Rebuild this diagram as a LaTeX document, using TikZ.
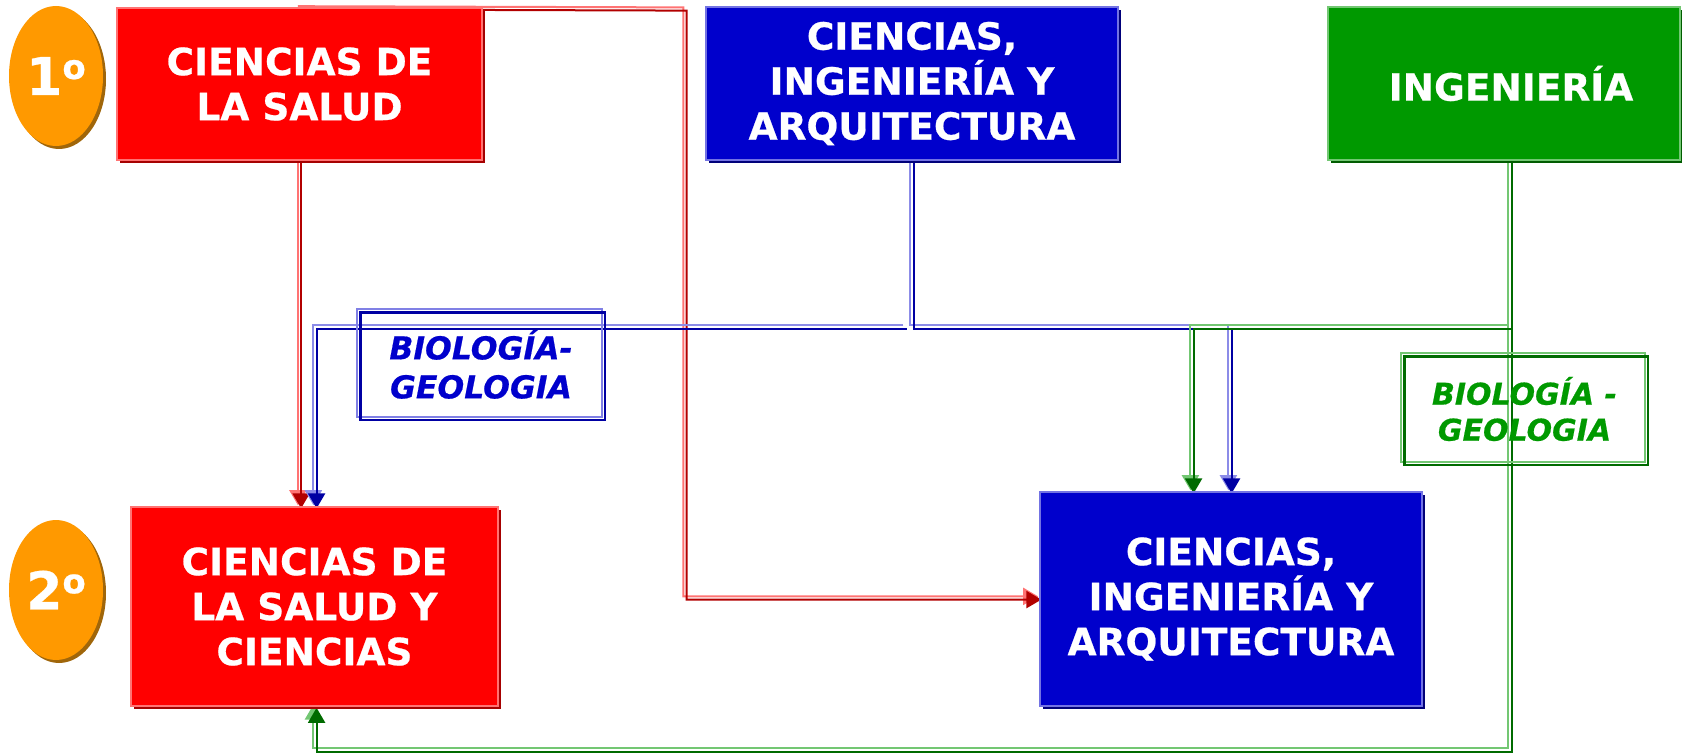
\documentclass[tikz,border=0pt]{standalone}
\usepackage{fontspec}
\setmainfont{DejaVu Sans}[BoldFeatures={FakeBold=0.6},BoldItalicFeatures={FakeBold=0.6}]
\usetikzlibrary{arrows.meta,shadows,shapes.geometric}
\definecolor{cred}{HTML}{FF0000}
\definecolor{cblue}{HTML}{0000CC}
\definecolor{cgreen}{HTML}{009900}
\definecolor{corange}{HTML}{FF9900}
\definecolor{cbrown}{HTML}{A0660A}
\tikzset{
  box/.style={rectangle, inner sep=0pt, align=center, text=white,
    font=\bfseries\fontsize{37.5}{45}\selectfont},
  boxshadow/.style={drop shadow={fill=#1, shadow xshift=3pt, shadow yshift=-3pt, opacity=1}},
  badge/.style={ellipse, inner sep=0pt, fill=corange, minimum width=94pt, minimum height=140pt,
    text=white, font=\bfseries\fontsize{52}{52}\selectfont,
    drop shadow={fill=cbrown, shadow xshift=3pt, shadow yshift=-3pt, opacity=1}},
  lab/.style={rectangle, inner sep=0pt, align=center},
  tip/.style={-{Triangle[width=17pt,length=15pt]}},
}
\newcommand\conn[4]{%
  \draw[line width=2pt, #1, transform canvas={shift={(-1.6,-1.6)}}, #3] #4;
  \draw[line width=2pt, #2, transform canvas={shift={(1.6,1.6)}}, #3] #4;}
\newcommand\labframe[3]{%
  \draw[line width=2.2pt, #2, transform canvas={shift={(-1.6,-1.6)}}] (#1.north west) rectangle (#1.south east);
  \draw[line width=2.2pt, #3, transform canvas={shift={(1.6,1.6)}}] (#1.north west) rectangle (#1.south east);}
\newcommand\ordo{\raisebox{16pt}{\fontsize{34}{34}\selectfont o}}
\begin{document}
\begin{tikzpicture}[x=1pt,y=-1pt]
\useasboundingbox (0,0) rectangle (1682,754);
\path
  (299.5,84) node[box, minimum width=365pt, minimum height=152pt] (A) {}
  (912,83.5) node[box, minimum width=412pt, minimum height=153pt] (B) {}
  (1504,83.5) node[box, minimum width=352pt, minimum height=153pt] (C) {}
  (314.5,606.5) node[box, minimum width=367pt, minimum height=199pt] (D) {}
  (1231,599) node[box, minimum width=382pt, minimum height=214pt] (E) {};
\coordinate (bj) at (912,327);
\coordinate (bjl) at (905,327);
\coordinate (bl) at (315,327);
\coordinate (br) at (1230,327);
\coordinate (gj) at (1510,327);
\coordinate (gr) at (1192,327);
\coordinate (gb) at (1510,750);
\coordinate (gl) at (315,750);
\coordinate (rr) at (685,598);
\coordinate (rt) at (685,9);
% connectors
\conn{cred!55}{cred!70!black}{tip}{(A.south) -- (A.south |- D.north)}
\conn{cred!55}{cred!70!black}{tip}{(A.north) -- (rt) -- (rr) -- (rr -| E.west)}
\conn{cblue!45!white}{cblue!80!black}{tip}{(B.south -| bj) -- (bj) -- (br) -- (br |- E.north)}
\conn{cblue!45!white}{cblue!80!black}{tip}{(bjl) -- (bl) -- (bl |- D.north)}
\conn{cgreen!55}{cgreen!70!black}{tip}{(C.south -| gj) -- (gb) -- (gl) -- (gl |- D.south)}
\conn{cgreen!55}{cgreen!70!black}{tip}{(gj) -- (gr) -- (gr |- E.north)}
% boxes
\node[box, boxshadow=cred!65!black, fill=cred, draw=cred!55, line width=1.2pt,
  minimum width=365pt, minimum height=152pt] (A2) at (A) {CIENCIAS DE\\LA SALUD};
\node[box, boxshadow=cblue!60!black, fill=cblue, draw=cblue!55!white, line width=1.2pt,
  minimum width=412pt, minimum height=153pt] (B2) at (B) {CIENCIAS,\\INGENIERÍA Y\\ARQUITECTURA};
\node[box, boxshadow=cgreen!60!black, fill=cgreen, draw=cgreen!55!white, line width=1.2pt,
  minimum width=352pt, minimum height=153pt] (C2) at (C) {\hspace{14pt}INGENIERÍA};
\node[box, boxshadow=cred!65!black, fill=cred, draw=cred!55, line width=1.2pt,
  minimum width=367pt, minimum height=199pt] (D2) at (D) {CIENCIAS DE\\LA SALUD Y\\CIENCIAS};
\node[box, boxshadow=cblue!60!black, fill=cblue, draw=cblue!55!white, line width=1.2pt,
  minimum width=382pt, minimum height=214pt] (E2) at (E) {CIENCIAS,\\INGENIERÍA Y\\ARQUITECTURA};
% badges
\node[badge] (O1) at (56,76) {1\ordo};
\node[badge] (O2) at (56,590) {2\ordo};
% labels
\node[lab, minimum width=244pt, minimum height=107pt, text=cblue,
  font=\bfseries\itshape\fontsize{31.5}{39}\selectfont] (LB) at (481,364.5) {BIOLOGÍA-\\GEOLOGIA};
\labframe{LB}{cblue!50!white}{cblue!80!black}
\node[lab, minimum width=243pt, minimum height=108pt, text=cgreen,
  font=\bfseries\itshape\fontsize{30}{36}\selectfont] (LG) at (1524.5,409) {BIOLOGÍA -\\GEOLOGIA};
\labframe{LG}{cgreen!55}{cgreen!70!black}
\end{tikzpicture}
\end{document}
